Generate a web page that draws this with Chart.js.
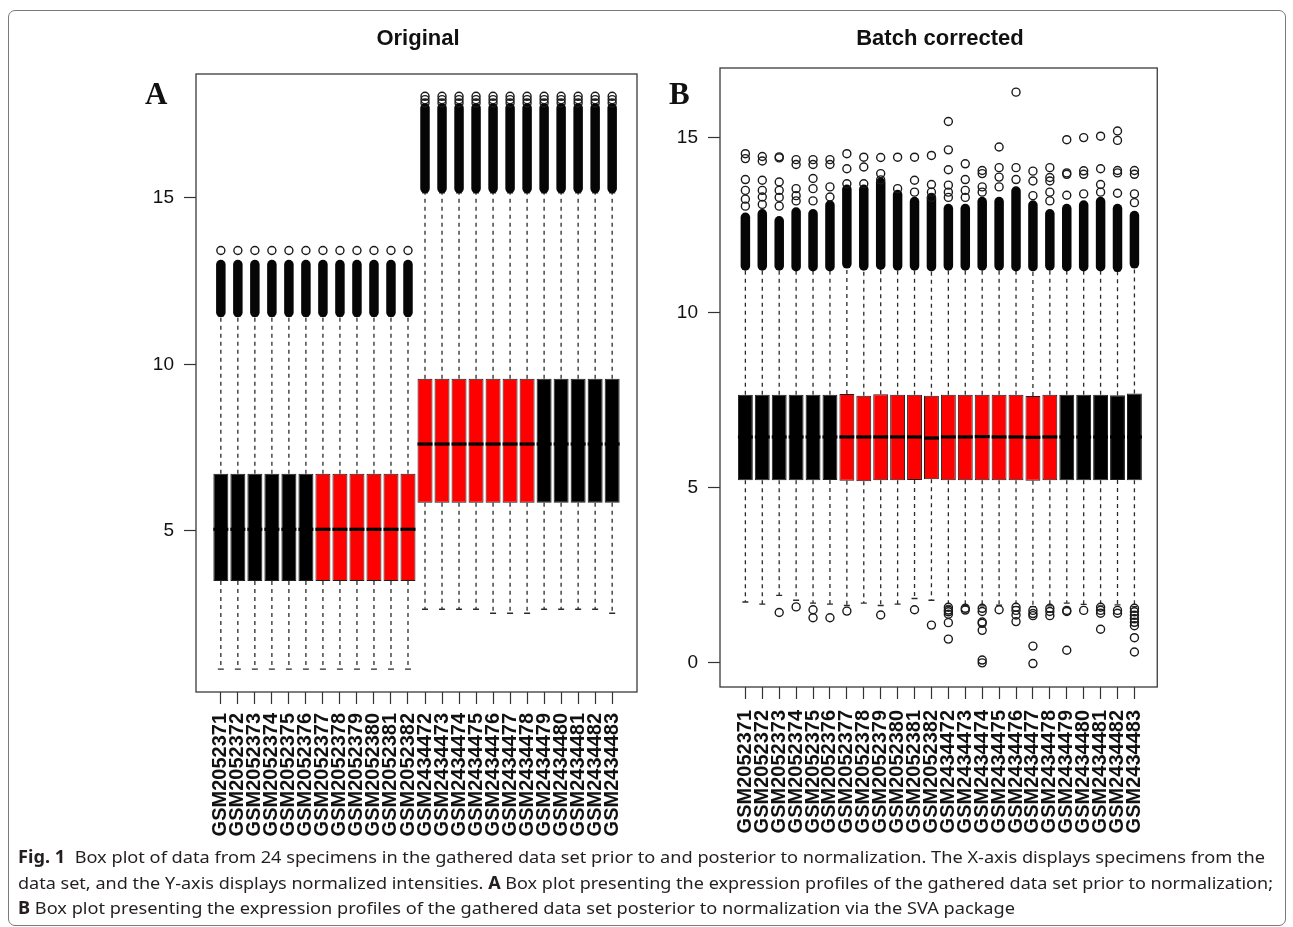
<!DOCTYPE html>
<html>
<head>
<meta charset="utf-8">
<script src="https://cdn.jsdelivr.net/npm/chart.js@4.4.1/dist/chart.umd.min.js"></script>
<style>
  html, body { margin: 0; padding: 0; background: #fff; }
  body { width: 1293px; height: 927px; position: relative; overflow: hidden; font-family: "Liberation Sans", Arial, sans-serif; }
  .frame { position: absolute; left: 8px; top: 10px; width: 1276px; height: 914px; border: 1px solid #7a7a7a; border-radius: 7px; }
  canvas { position: absolute; top: 0; }
  .title { position: absolute; top: 27px; width: 300px; text-align: center; font-weight: bold; font-size: 22px; line-height: 22px; color: #111; }
  .letter { position: absolute; top: 78px; font-family: "Liberation Serif", serif; font-weight: bold; font-size: 31px; line-height: 31px; color: #111; }
  .cap { position: absolute; left: 18px; white-space: nowrap; font-family: "Noto Sans", "Open Sans", sans-serif; font-size: 17px; line-height: 17px; color: #231f20; transform-origin: 0 0; }
  .cap b { font-weight: bold; }
</style>
</head>
<body>
<div class="frame"></div>
<canvas id="chartA" width="650" height="850" style="left:0"></canvas>
<canvas id="chartB" width="520" height="850" style="left:650px"></canvas>
<div class="title" style="left:268px">Original</div>
<div class="title" style="left:790px">Batch corrected</div>
<div class="letter" style="left:145px">A</div>
<div class="letter" style="left:669px">B</div>
<div class="cap" id="cap1" style="top:848px"><b>Fig. 1</b>&nbsp; Box plot of data from 24 specimens in the gathered data set prior to and posterior to normalization. The X-axis displays specimens from the</div>
<div class="cap" id="cap2" style="top:874px">data set, and the Y-axis displays normalized intensities. <b>A</b> Box plot presenting the expression profiles of the gathered data set prior to normalization;</div>
<div class="cap" id="cap3" style="top:899px"><b>B</b> Box plot presenting the expression profiles of the gathered data set posterior to normalization via the SVA package</div>
<script>
const samples = [
  "GSM2052371", "GSM2052372", "GSM2052373", "GSM2052374", "GSM2052375", "GSM2052376",
  "GSM2052377", "GSM2052378", "GSM2052379", "GSM2052380", "GSM2052381", "GSM2052382",
  "GSM2434472", "GSM2434473", "GSM2434474", "GSM2434475", "GSM2434476", "GSM2434477",
  "GSM2434478", "GSM2434479", "GSM2434480", "GSM2434481", "GSM2434482", "GSM2434483",
];

// samples drawn with red boxes
const highlighted = [
  "GSM2052377", "GSM2052378", "GSM2052379", "GSM2052380", "GSM2052381", "GSM2052382",
  "GSM2434472", "GSM2434473", "GSM2434474", "GSM2434475", "GSM2434476", "GSM2434477", "GSM2434478",
];

// Panel A - original
const yTicksA = [5, 10, 15];
const aQ1 = [3.50, 3.50, 3.50, 3.50, 3.50, 3.50, 3.50, 3.50, 3.50, 3.50, 3.50, 3.50,
  5.85, 5.85, 5.85, 5.85, 5.85, 5.85, 5.85, 5.85, 5.85, 5.85, 5.85, 5.85];
const aMedian = [5.05, 5.05, 5.05, 5.05, 5.05, 5.05, 5.05, 5.05, 5.05, 5.05, 5.05, 5.05,
  7.61, 7.61, 7.61, 7.61, 7.61, 7.61, 7.61, 7.61, 7.61, 7.61, 7.61, 7.61];
const aQ3 = [6.72, 6.72, 6.72, 6.72, 6.72, 6.72, 6.72, 6.72, 6.72, 6.72, 6.72, 6.72,
  9.57, 9.57, 9.57, 9.57, 9.57, 9.57, 9.57, 9.57, 9.57, 9.57, 9.57, 9.57];
const aLow = [0.85, 0.85, 0.85, 0.85, 0.85, 0.85, 0.85, 0.85, 0.85, 0.85, 0.85, 0.85,
  2.65, 2.65, 2.65, 2.65, 2.53, 2.53, 2.53, 2.65, 2.65, 2.65, 2.65, 2.53];
const aHigh = [11.45, 11.45, 11.45, 11.45, 11.45, 11.45, 11.45, 11.45, 11.45, 11.45, 11.45, 11.45,
  15.15, 15.15, 15.15, 15.15, 15.15, 15.15, 15.15, 15.15, 15.15, 15.15, 15.15, 15.15];
// band of overlapping outliers just above the upper whisker
const aDenseLow = [11.56, 11.56, 11.56, 11.56, 11.56, 11.56, 11.56, 11.56, 11.56, 11.56, 11.56, 11.56,
  15.28, 15.28, 15.28, 15.28, 15.28, 15.28, 15.28, 15.28, 15.28, 15.28, 15.28, 15.28];
const aDenseHigh = [13.0, 13.0, 13.0, 13.0, 13.0, 13.0, 13.0, 13.0, 13.0, 13.0, 13.0, 13.0,
  17.7, 17.7, 17.7, 17.7, 17.7, 17.7, 17.7, 17.7, 17.7, 17.7, 17.7, 17.7];
const aOutliers = [
  [13.42], [13.42], [13.42], [13.42], [13.42], [13.42],
  [13.42], [13.42], [13.42], [13.42], [13.42], [13.42],
  [17.85, 17.95, 18.05], [17.85, 17.95, 18.05], [17.85, 17.95, 18.05], [17.85, 17.95, 18.05],
  [17.85, 17.95, 18.05], [17.85, 17.95, 18.05], [17.85, 17.95, 18.05], [17.85, 17.95, 18.05],
  [17.85, 17.95, 18.05], [17.85, 17.95, 18.05], [17.85, 17.95, 18.05], [17.85, 17.95, 18.05],
];

// Panel B - batch corrected
const yTicksB = [0, 5, 10, 15];
const bQ1 = [5.21, 5.21, 5.21, 5.21, 5.21, 5.22, 5.20, 5.18, 5.21, 5.21, 5.22, 5.24,
  5.21, 5.21, 5.21, 5.21, 5.21, 5.20, 5.21, 5.21, 5.21, 5.21, 5.22, 5.21];
const bMedian = [6.45, 6.45, 6.45, 6.45, 6.45, 6.45, 6.45, 6.45, 6.45, 6.45, 6.45, 6.42,
  6.45, 6.45, 6.46, 6.45, 6.45, 6.44, 6.45, 6.45, 6.45, 6.45, 6.45, 6.45];
const bQ3 = [7.66, 7.66, 7.66, 7.66, 7.66, 7.66, 7.68, 7.63, 7.67, 7.66, 7.66, 7.63,
  7.66, 7.66, 7.66, 7.66, 7.66, 7.62, 7.66, 7.66, 7.66, 7.66, 7.64, 7.69];
const bLow = [1.73, 1.67, 1.92, 1.78, 1.70, 1.67, 1.63, 1.70, 1.63, 1.67, 1.83, 1.78,
  1.62, 1.63, 1.62, 1.64, 1.60, 1.60, 1.62, 1.70, 1.66, 1.62, 1.65, 1.60];
const bHigh = [11.30, 11.28, 11.30, 11.25, 11.25, 11.25, 11.40, 11.30, 11.35, 11.30, 11.30, 11.25,
  11.30, 11.30, 11.30, 11.30, 11.25, 11.25, 11.30, 11.25, 11.25, 11.25, 11.20, 11.35];
const bDenseLow = [11.34, 11.34, 11.34, 11.32, 11.32, 11.32, 11.40, 11.34, 11.36, 11.34, 11.34, 11.32,
  11.34, 11.34, 11.34, 11.34, 11.32, 11.32, 11.34, 11.32, 11.32, 11.32, 11.30, 11.40];
const bDenseHigh = [12.73, 12.83, 12.63, 12.88, 12.83, 13.08, 13.53, 13.53, 13.73, 13.38, 13.18, 13.28,
  12.98, 12.98, 13.18, 13.18, 13.48, 13.08, 12.83, 12.98, 13.08, 13.18, 12.98, 12.78];
const bOutliers = [
  [14.55, 14.41, 13.81, 13.50, 13.25, 13.05],
  [14.47, 14.34, 13.79, 13.50, 13.31, 13.10],
  [14.46, 14.43, 13.74, 13.50, 13.30, 13.05, 1.43],
  [14.38, 14.24, 13.55, 13.35, 13.20, 1.59],
  [14.38, 14.24, 13.84, 13.55, 13.20, 1.51, 1.28],
  [14.38, 14.24, 13.60, 13.31, 1.28],
  [14.55, 14.12, 13.69, 1.47],
  [14.45, 14.17, 13.69],
  [14.44, 13.98, 13.80, 1.36],
  [14.45, 13.55],
  [14.45, 13.79, 13.45, 1.51],
  [14.50, 13.67, 13.45, 13.30, 1.07],
  [15.47, 14.66, 14.09, 13.65, 13.45, 13.30, 1.58, 1.50, 1.45, 1.38, 1.14, 0.67],
  [14.26, 13.81, 13.50, 13.30, 1.55, 1.50],
  [14.07, 13.98, 13.60, 13.45, 1.55, 1.46, 1.16, 1.12, 0.92, 0.07, -0.01],
  [14.74, 14.15, 13.88, 13.60, 1.51],
  [16.31, 14.15, 13.81, 1.58, 1.49, 1.36, 1.17],
  [14.05, 13.77, 13.35, 1.49, 1.40, 1.34, 0.47, -0.03],
  [14.15, 13.87, 13.77, 13.45, 13.20, 1.55, 1.46, 1.34],
  [14.95, 14.00, 13.96, 13.36, 1.49, 1.46, 0.35],
  [15.01, 14.06, 13.96, 13.40, 1.49],
  [15.05, 14.12, 13.67, 13.45, 1.58, 1.49, 1.41, 0.95],
  [15.20, 14.93, 14.07, 14.00, 13.42, 1.49, 1.41],
  [14.07, 13.96, 13.40, 13.15, 1.55, 1.45, 1.35, 1.25, 1.15, 1.05, 0.71, 0.30],
];

function boxPlotPlugin(s) {
  return {
    id: "boxPlot",
    beforeDatasetsDraw(chart) {
      const { ctx, scales: { x, y } } = chart;
      ctx.save();
      s.q1.forEach((q1, i) => {
        const px = x.getPixelForValue(i + 1);

        // dashed whiskers
        ctx.strokeStyle = "#2b2b2b";
        ctx.lineWidth = 1.3;
        ctx.lineCap = "butt";
        ctx.setLineDash([4, 4]);
        ctx.beginPath();
        ctx.moveTo(px, y.getPixelForValue(s.q3[i]));
        ctx.lineTo(px, y.getPixelForValue(s.high[i]));
        ctx.moveTo(px, y.getPixelForValue(q1));
        ctx.lineTo(px, y.getPixelForValue(s.low[i]));
        ctx.stroke();

        // staples
        ctx.setLineDash([]);
        ctx.beginPath();
        [s.low[i], s.high[i]].forEach((v) => {
          const py = y.getPixelForValue(v);
          ctx.moveTo(px - 3, py);
          ctx.lineTo(px + 3, py);
        });
        ctx.stroke();

        // overlapping outliers merge into a solid column
        ctx.strokeStyle = "#060606";
        ctx.lineWidth = 9.5;
        ctx.lineCap = "round";
        ctx.beginPath();
        ctx.moveTo(px, y.getPixelForValue(s.denseLow[i]));
        ctx.lineTo(px, y.getPixelForValue(s.denseHigh[i]));
        ctx.stroke();
      });
      ctx.restore();
    },
    afterDatasetsDraw(chart) {
      const { ctx, scales: { y } } = chart;
      const boxes = chart.getDatasetMeta(0).data;
      ctx.save();
      ctx.strokeStyle = "#000";
      ctx.lineWidth = 3.2;
      s.median.forEach((m, i) => {
        const bar = boxes[i];
        const py = y.getPixelForValue(m);
        ctx.beginPath();
        ctx.moveTo(bar.x - bar.width / 2, py);
        ctx.lineTo(bar.x + bar.width / 2, py);
        ctx.stroke();
      });
      ctx.restore();
    },
    afterDraw(chart) {
      const { ctx, chartArea: a } = chart;
      ctx.save();
      ctx.strokeStyle = "#3a3a3a";
      ctx.lineWidth = 1.3;
      ctx.strokeRect(a.left, a.top, a.right - a.left, a.bottom - a.top);
      ctx.restore();
    },
  };
}

function axisGrid() {
  return {
    display: true,
    drawOnChartArea: false,
    drawTicks: true,
    tickLength: 12,
    tickColor: "#333",
    tickWidth: 1.2,
    offset: false,
  };
}

function makeChart(canvasId, s, view) {
  return new Chart(document.getElementById(canvasId), {
    type: "bar",
    data: {
      datasets: [
        {
          type: "bar",
          data: samples.map((name, i) => ({ x: i + 1, y: [s.q1[i], s.q3[i]] })),
          backgroundColor: samples.map((name) => (highlighted.includes(name) ? "#ff0000" : "#000000")),
          borderColor: "#1e1e1e",
          borderWidth: 1,
          borderSkipped: false,
          barPercentage: 0.88,
          categoryPercentage: 1,
          grouped: false,
        },
        {
          type: "scatter",
          data: s.outliers.flatMap((list, i) => list.map((v) => ({ x: i + 1, y: v }))),
          pointRadius: 4,
          pointBorderWidth: 1.4,
          pointBorderColor: "#1a1a1a",
          pointBackgroundColor: "rgba(0,0,0,0)",
        },
      ],
    },
    options: {
      responsive: false,
      animation: false,
      devicePixelRatio: 1,
      events: [],
      layout: { padding: view.padding },
      plugins: {
        legend: { display: false },
        tooltip: { enabled: false },
      },
      scales: {
        x: {
          type: "linear",
          min: view.xMin,
          max: view.xMax,
          offset: false,
          grid: axisGrid(),
          border: { display: false },
          afterBuildTicks: (scale) => {
            scale.ticks = samples.map((name, i) => ({ value: i + 1 }));
          },
          afterFit: (scale) => {
            scale.height = 150;
          },
          ticks: {
            autoSkip: false,
            minRotation: 90,
            maxRotation: 90,
            padding: view.labelPad,
            color: "#111",
            font: { family: "Liberation Sans", size: 20, weight: "bold" },
            callback: (value) => samples[value - 1],
          },
        },
        y: {
          type: "linear",
          min: view.yMin,
          max: view.yMax,
          grid: axisGrid(),
          border: { display: false },
          afterBuildTicks: (scale) => {
            scale.ticks = view.yTicks.map((v) => ({ value: v }));
          },
          afterFit: (scale) => {
            scale.width = view.yWidth;
          },
          ticks: {
            padding: 10,
            color: "#111",
            font: { family: "Liberation Sans", size: 19 },
          },
        },
      },
    },
    plugins: [boxPlotPlugin(s)],
  });
}

makeChart("chartA", {
  q1: aQ1, median: aMedian, q3: aQ3, low: aLow, high: aHigh,
  denseLow: aDenseLow, denseHigh: aDenseHigh, outliers: aOutliers,
}, {
  padding: { left: 0, right: 13, top: 74, bottom: 8 },
  yWidth: 196, xMin: -0.46, xMax: 25.46, yMin: 0.165, yMax: 18.72, yTicks: yTicksA, labelPad: 9,
});

makeChart("chartB", {
  q1: bQ1, median: bMedian, q3: bQ3, low: bLow, high: bHigh,
  denseLow: bDenseLow, denseHigh: bDenseHigh, outliers: bOutliers,
}, {
  padding: { left: 0, right: 11, top: 68, bottom: 13 },
  yWidth: 70, xMin: -0.5, xMax: 25.35, yMin: -0.7, yMax: 17.0, yTicks: yTicksB, labelPad: 11,
});

// squeeze the caption lines to the width they take in the figure
[["cap1", 1247], ["cap2", 1255], ["cap3", 997]].forEach(([id, target]) => {
  const el = document.getElementById(id);
  const w = el.getBoundingClientRect().width;
  el.style.transform = `scaleX(${target / w})`;
});
</script>
</body>
</html>
